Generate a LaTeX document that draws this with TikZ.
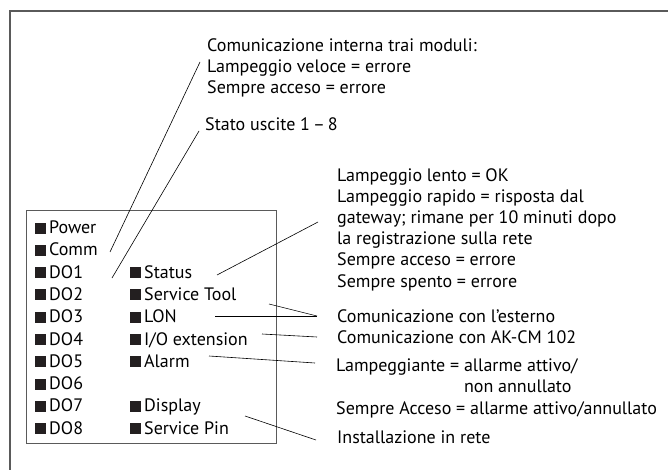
\documentclass[tikz,border=0pt]{standalone}
\usepackage{fontspec}
\setmainfont{PT Sans}
\usetikzlibrary{positioning}
\definecolor{ledink}{HTML}{231F20}
\definecolor{framegray}{HTML}{5A5A5A}
\newcommand{\ledsq}{{\color{ledink}\rule{11pt}{11pt}}\hspace{3pt}}

\begin{document}
\begin{tikzpicture}[x=1pt,y=-1pt,font=\fontsize{18}{21.2}\selectfont,
  led/.style={anchor=base west,inner sep=0pt},
  note/.style={anchor=base west,inner sep=0pt,align=left},
  pointer/.style={line width=0.6pt}]
  \useasboundingbox (0,0) rectangle (668,470);
  % frame and module
  \draw[framegray,line width=1.3pt] (668,11) -- (10,11) -- (10,470);
  \draw[framegray,line width=1pt] (26,210) rectangle (276,443);
  % leds
  \foreach \nm/\txt [count=\i from 0] in {power/Power,comm/Comm,do1/DO1,do2/DO2,do3/DO3,do4/DO4,do5/DO5,do6/DO6,do7/DO7,do8/DO8} {
    \node[led] (\nm) at (35,233.5+22.3*\i) {\ledsq\txt};
  }
  \foreach \nm/\i/\txt in {status/2/Status,stool/3/Service Tool,lon/4/LON,ioext/5/{I/O extension},alarm/6/Alarm,display/8/Display,spin/9/Service Pin} {
    \node[led] (\nm) at (130,233.5+22.3*\i) {\ledsq\txt};
  }
  % descriptions (multi-line: placed by last baseline)
  \node[note] (intcomm) at (207,94) {Comunicazione interna trai moduli:\\Lampeggio veloce = errore\\Sempre acceso = errore};
  \node[note] (stato) at (205,131) {Stato uscite 1\,--\,8};
  \node[note] (statinfo) at (337,287) {Lampeggio lento = OK\\Lampeggio rapido = risposta dal\\gateway; rimane per 10 minuti dopo\\la registrazione sulla rete\\Sempre acceso = errore\\Sempre spento = errore};
  \node[note] (extcomm) at (337,322) {Comunicazione con l'esterno};
  \node[note] (akcm) at (337,343) {Comunicazione con AK-CM 102};
  \node[note] (alarminfo) at (336,414) {Lampeggiante = allarme attivo/\\\phantom{Lampeggiante = }non annullato\\Sempre Acceso = allarme attivo/annullato};
  \node[note] (netinst) at (337,443) {Installazione in rete};
  % pointers
  \coordinate (comm-tip) at (110,252);   \coordinate (intcomm-tip) at (200,62);
  \coordinate (do1-tip) at (112,278);    \coordinate (stato-tip) at (199,131);
  \coordinate (status-tip) at (217,275); \coordinate (statinfo-tip) at (318,222);
  \coordinate (stool-tip) at (269,304);  \coordinate (lon-tip) at (215,316);
  \coordinate (extcomm-tip) at (317,316);
  \coordinate (ioext-tip) at (262,334);  \coordinate (akcm-tip) at (317,337);
  \coordinate (alarm-tip) at (209,356);  \coordinate (alarminfo-tip) at (315,363);
  \coordinate (spin-tip) at (245,416);   \coordinate (netinst-tip) at (316,440);
  \foreach \a/\b in {comm/intcomm,do1/stato,status/statinfo,stool/extcomm,lon/extcomm,ioext/akcm,alarm/alarminfo,spin/netinst} {
    \draw[pointer] (\a-tip) -- (\b-tip);
  }
\end{tikzpicture}
\end{document}
